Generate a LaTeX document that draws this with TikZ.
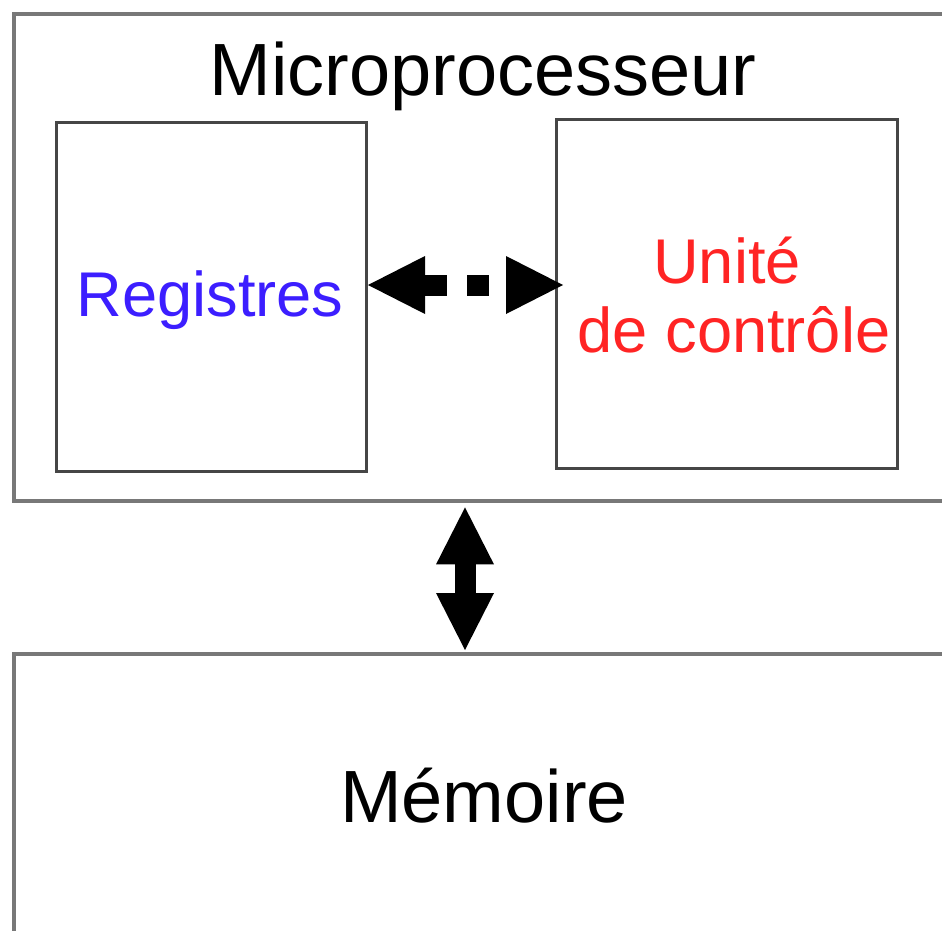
\documentclass[tikz,border=0pt]{standalone}
\usepackage{fontspec}
\setmainfont{Liberation Sans}
\usetikzlibrary{arrows.meta}
\definecolor{outerline}{RGB}{120,120,120}
\definecolor{innerline}{RGB}{70,70,70}
\definecolor{regblue}{RGB}{60,30,255}
\definecolor{ctlred}{RGB}{255,36,36}
\begin{document}
\begin{tikzpicture}[x=0.5pt,y=-0.5pt,
  outerbox/.style={draw=outerline, line width=2.2pt, anchor=north west, inner sep=0pt},
  innerbox/.style={draw=innerline, line width=1.5pt, anchor=north west, inner sep=0pt},
  bigfont/.style={font=\fontsize{37}{40}\selectfont},
  midfont/.style={font=\fontsize{31.6}{34}\selectfont},
  bus/.style={line width=10.5pt,
    arrows={Triangle[length=28.5pt,width=29pt,line width=0pt]-Triangle[length=28.5pt,width=29pt,line width=0pt]}}
]
\useasboundingbox (0,0) rectangle (942,931);
\clip (0,0) rectangle (942,931);
\fill[white] (0,0) rectangle (942,931);

% outer blocks (they run past the right and bottom edges)
\node[outerbox, minimum width=480pt, minimum height=243.5pt] (cpu) at (12,12) {};
\node[outerbox, minimum width=480pt, minimum height=200pt] (mem) at (12,652) {};

% inner blocks of the processor
\node[innerbox, minimum width=155pt, minimum height=174.5pt] (reg) at (55,121) {};
\node[innerbox, minimum width=170.5pt, minimum height=174.5pt] (ctl) at (555,118) {};

% labels
\node[bigfont, anchor=base] (cputitle) at (483,96) {Microprocesseur};
\node[midfont, anchor=base, text=regblue] (regtext) at (210,316) {Registres};
\node[midfont, anchor=base, text=ctlred] (ctltext1) at (727,283) {Unité};
\node[midfont, anchor=base, text=ctlred] (ctltext2) at (734,352) {de contrôle};
\node[bigfont, anchor=base] (memtext) at (484,822) {Mémoire};

% internal link between registers and control unit
\draw[bus, dash pattern=on 11pt off 10pt]
  ([yshift=6pt]reg.east) -- ([xshift=4pt,yshift=4.5pt]ctl.west);

% bus between processor and memory
\draw[bus]
  ([xshift=226.5pt,yshift=-2pt]cpu.south west) -- ([xshift=226.5pt,yshift=1pt]mem.north west);
\end{tikzpicture}
\end{document}
